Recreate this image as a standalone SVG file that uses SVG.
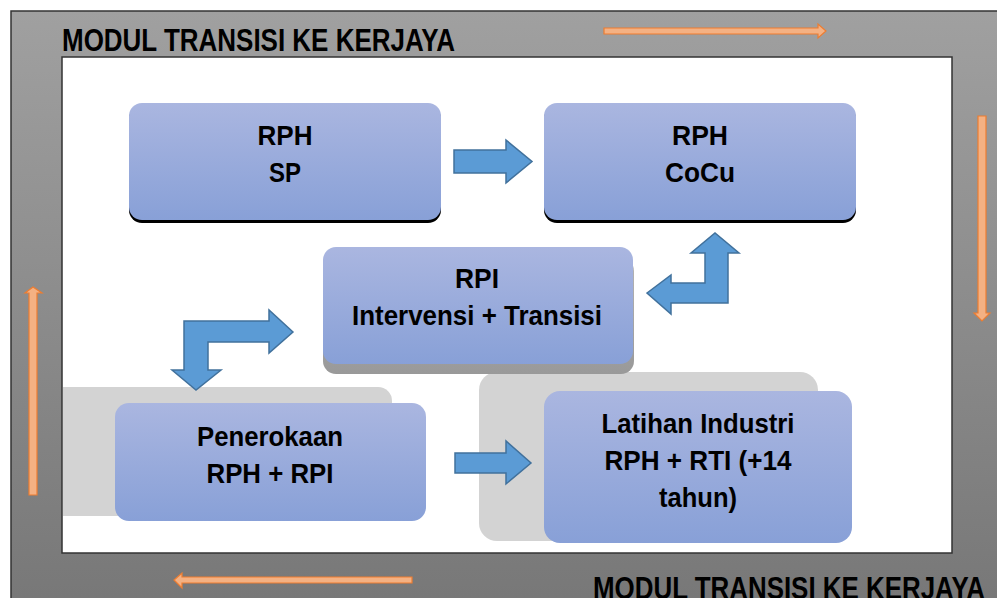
<svg xmlns="http://www.w3.org/2000/svg" width="997" height="598" viewBox="0 0 997 598">
<defs>
<linearGradient id="frame" x1="0" y1="0" x2="0" y2="1">
<stop offset="0" stop-color="#a0a0a0"/>
<stop offset="1" stop-color="#777777"/>
</linearGradient>
<linearGradient id="box" x1="0" y1="0" x2="0" y2="1">
<stop offset="0" stop-color="#aab6e0"/>
<stop offset="1" stop-color="#88a0d7"/>
</linearGradient>
<linearGradient id="shd" x1="0" y1="0" x2="0" y2="1">
<stop offset="0" stop-color="#b4b4b4"/>
<stop offset="1" stop-color="#999999"/>
</linearGradient>
</defs>
<style>
.t{font-family:"Liberation Sans",Arial,sans-serif;font-weight:bold;font-size:28px;fill:#000;text-anchor:middle}
.title{font-family:"Liberation Sans",Arial,sans-serif;font-weight:bold;font-size:31px;fill:#000}
.bx{fill:url(#box)}
.or{fill:#f4b183;stroke:#ed7d31;stroke-width:1.2}
.bl{fill:#5b9bd5;stroke:#41719c;stroke-width:1.5;stroke-linejoin:miter}
.lg{fill:#d3d3d3}
</style>
<rect x="0" y="0" width="997" height="598" fill="#ffffff"/>
<g id="frame-bg">
<rect x="11" y="11" width="1000" height="600" fill="url(#frame)" stroke="#333" stroke-width="1.5"/>
<rect x="62" y="57" width="890" height="496" fill="#ffffff" stroke="#333" stroke-width="1.5"/>
<text class="title" x="62" y="51" textLength="393" lengthAdjust="spacingAndGlyphs">MODUL TRANSISI KE KERJAYA</text>
<text class="title" x="593" y="599" textLength="392" lengthAdjust="spacingAndGlyphs">MODUL TRANSISI KE KERJAYA</text>
</g>
<g id="orange-arrows">
<polygon class="or" points="604,28 818,28 818,24 826,31 818,38 818,34 604,34"/>
<polygon class="or" points="978,116 986,116 986,313 990,313 982,321 974,313 978,313"/>
<polygon class="or" points="29,495 37,495 37,293 42,293 33,287 25,293 29,293"/>
<polygon class="or" points="412,577 412,583 182,583 182,588 174,580 182,573 182,577"/>
</g>
<g id="backdrops">
<path class="lg" d="M63,387 H378 A14,14 0 0 1 392,401 V516 H63 Z"/>
<rect class="lg" x="479" y="372" width="339" height="169" rx="18"/>
</g>
<g id="node-rph-sp">
<rect x="129" y="106" width="312" height="117" rx="13" fill="#000"/>
<rect class="bx" x="129" y="103" width="312" height="117" rx="13"/>
<text class="t" x="285" y="145" textLength="55" lengthAdjust="spacingAndGlyphs">RPH</text>
<text class="t" x="285" y="182" textLength="32" lengthAdjust="spacingAndGlyphs">SP</text>
</g>
<g id="node-rph-cocu">
<rect x="544" y="106" width="312" height="117" rx="13" fill="#000"/>
<rect class="bx" x="544" y="103" width="312" height="117" rx="13"/>
<text class="t" x="700" y="145" textLength="56" lengthAdjust="spacingAndGlyphs">RPH</text>
<text class="t" x="700" y="182" textLength="70" lengthAdjust="spacingAndGlyphs">CoCu</text>
</g>
<g id="node-rpi">
<rect x="323" y="258" width="311" height="116" rx="13" fill="url(#shd)"/>
<rect class="bx" x="323" y="247" width="310" height="117" rx="13"/>
<text class="t" x="477" y="288" textLength="44" lengthAdjust="spacingAndGlyphs">RPI</text>
<text class="t" x="477" y="325" textLength="250" lengthAdjust="spacingAndGlyphs">Intervensi + Transisi</text>
</g>
<g id="node-penerokaan">
<rect class="bx" x="115" y="403" width="311" height="118" rx="14"/>
<text class="t" x="270" y="446" textLength="146" lengthAdjust="spacingAndGlyphs">Penerokaan</text>
<text class="t" x="270" y="483" textLength="127" lengthAdjust="spacingAndGlyphs">RPH + RPI</text>
</g>
<g id="node-latihan">
<rect class="bx" x="544" y="391" width="308" height="152" rx="16"/>
<text class="t" x="698" y="433" textLength="193" lengthAdjust="spacingAndGlyphs">Latihan Industri</text>
<text class="t" x="698" y="470" textLength="187" lengthAdjust="spacingAndGlyphs">RPH + RTI (+14</text>
<text class="t" x="698" y="507" textLength="78" lengthAdjust="spacingAndGlyphs">tahun)</text>
</g>
<g id="connectors">
<polygon class="bl" points="454,150 506,150 506,140 532,161.5 506,183 506,173 454,173"/>
<polygon class="bl" points="455,453 506,453 506,441 531,463 506,484 506,473 455,473"/>
<polygon class="bl" points="647,293 671,275 671,283 705,283 705,253 691,253 715,233 739,253 728,253 728,303 671,303 671,314"/>
<polygon class="bl" points="293,332 269,310 269,321 184,321 184,370 172,370 196,390 221,370 208,370 208,342 269,342 269,353"/>
</g>
</svg>
